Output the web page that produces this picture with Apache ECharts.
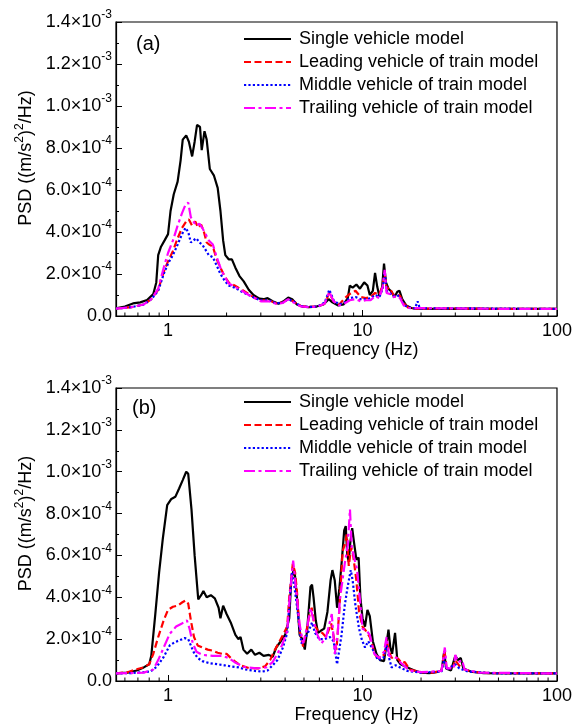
<!DOCTYPE html>
<html><head><meta charset="utf-8">
<script src="https://cdn.jsdelivr.net/npm/echarts@6/dist/echarts.min.js"></script>
<style>html,body{margin:0;padding:0;background:#fff}#c{width:575px;height:726px}</style>
</head><body><div id="c"></div><script>
// ---------- data ----------
const seriesNames = ['Single vehicle model','Leading vehicle of train model','Middle vehicle of train model','Trailing vehicle of train model'];
const xTickLabels = ['1','10','100'];
const minorFreqs = [0.6,0.7,0.8,0.9,2,3,4,5,6,7,8,9,20,30,40,50,60,70,80,90];
const yTicks = [0,2e-4,4e-4,6e-4,8e-4,1.0e-3,1.2e-3,1.4e-3];

// panel (a)  [frequency Hz, PSD]
const aSingle = [[0.54,3.6e-5],[0.60,4.5e-5],[0.66,6.0e-5],[0.72,6.5e-5],[0.78,7.6e-5],[0.84,1.05e-4],[0.87,1.6e-4],[0.89,2.9e-4],[0.92,3.3e-4],[0.96,3.6e-4],[1.00,3.9e-4],[1.03,5.0e-4],[1.07,5.8e-4],[1.12,6.4e-4],[1.16,7.4e-4],[1.19,8.4e-4],[1.24,8.6e-4],[1.28,8.3e-4],[1.33,7.6e-4],[1.37,8.3e-4],[1.41,9.1e-4],[1.46,9.0e-4],[1.49,7.9e-4],[1.54,8.8e-4],[1.58,8.4e-4],[1.64,7.0e-4],[1.72,6.7e-4],[1.80,6.1e-4],[1.86,5.0e-4],[1.92,3.6e-4],[1.97,2.9e-4],[2.05,2.7e-4],[2.13,2.7e-4],[2.22,2.3e-4],[2.33,1.9e-4],[2.45,1.65e-4],[2.6,1.25e-4],[2.75,1.0e-4],[2.95,8.3e-5],[3.1,8.0e-5],[3.25,8.5e-5],[3.45,7.0e-5],[3.7,5.8e-5],[3.95,7.2e-5],[4.15,8.8e-5],[4.35,8.0e-5],[4.6,5.5e-5],[4.9,4.5e-5],[5.3,4.2e-5],[5.8,4.5e-5],[6.3,5.5e-5],[6.7,8.0e-5],[7.0,6.5e-5],[7.5,5.0e-5],[8.0,5.5e-5],[8.4,8.5e-5],[8.6,1.45e-4],[8.9,1.35e-4],[9.3,1.5e-4],[9.7,1.3e-4],[10.2,1.6e-4],[10.6,1.45e-4],[10.9,1.0e-4],[11.3,1.2e-4],[11.6,2.05e-4],[11.9,1.4e-4],[12.2,9.5e-5],[12.6,1.3e-4],[12.9,2.5e-4],[13.2,1.6e-4],[13.6,1.3e-4],[14.1,1.15e-4],[14.6,9.0e-5],[15.1,1.15e-4],[15.5,1.2e-4],[16.0,8.0e-5],[16.8,5.0e-5],[17.8,3.8e-5],[19,3.5e-5],[25,3.4e-5],[35,3.5e-5],[50,3.4e-5],[70,3.4e-5],[100,3.4e-5]];
const aLeading = [[0.54,3.5e-5],[0.65,4.2e-5],[0.75,5.5e-5],[0.82,8.0e-5],[0.89,1.25e-4],[0.95,2.1e-4],[1.0,2.6e-4],[1.06,3.1e-4],[1.12,3.7e-4],[1.18,4.2e-4],[1.24,4.5e-4],[1.28,4.6e-4],[1.33,4.3e-4],[1.38,4.5e-4],[1.43,4.2e-4],[1.48,4.35e-4],[1.53,4.0e-4],[1.58,3.5e-4],[1.63,3.4e-4],[1.70,3.3e-4],[1.78,2.7e-4],[1.86,2.3e-4],[1.95,1.9e-4],[2.05,1.6e-4],[2.2,1.45e-4],[2.4,1.25e-4],[2.6,1.05e-4],[2.8,8.5e-5],[3.0,7.5e-5],[3.3,7.5e-5],[3.6,6.0e-5],[3.9,6.5e-5],[4.15,8.0e-5],[4.4,7.0e-5],[4.8,4.8e-5],[5.3,4.3e-5],[5.9,4.5e-5],[6.4,6.0e-5],[6.75,1.1e-4],[7.1,7.0e-5],[7.6,5.5e-5],[8.1,8.5e-5],[8.6,1.05e-4],[9.2,1.2e-4],[9.8,9.0e-5],[10.4,8.5e-5],[11.0,9.0e-5],[11.6,1.1e-4],[12.2,1.0e-4],[12.7,1.5e-4],[13.0,2.0e-4],[13.3,1.3e-4],[13.8,1.35e-4],[14.4,1.0e-4],[15.0,1.05e-4],[15.6,9.5e-5],[16.3,6.0e-5],[17.2,4.0e-5],[19,3.5e-5],[30,3.6e-5],[50,3.4e-5],[100,3.4e-5]];
const aMiddle = [[0.54,3.5e-5],[0.65,4.2e-5],[0.75,5.5e-5],[0.82,8.0e-5],[0.89,1.2e-4],[0.95,2.0e-4],[1.0,2.5e-4],[1.06,2.9e-4],[1.12,3.4e-4],[1.18,3.9e-4],[1.23,4.2e-4],[1.27,4.0e-4],[1.31,3.5e-4],[1.35,3.6e-4],[1.40,3.7e-4],[1.45,3.5e-4],[1.50,3.4e-4],[1.56,3.15e-4],[1.62,2.9e-4],[1.70,2.8e-4],[1.78,2.4e-4],[1.86,2.0e-4],[1.95,1.7e-4],[2.05,1.45e-4],[2.2,1.35e-4],[2.4,1.15e-4],[2.6,1.0e-4],[2.8,8.5e-5],[3.0,7.5e-5],[3.3,7.5e-5],[3.6,6.0e-5],[3.9,6.5e-5],[4.15,8.0e-5],[4.4,7.0e-5],[4.8,4.8e-5],[5.3,4.3e-5],[5.9,4.5e-5],[6.4,6.5e-5],[6.75,1.25e-4],[7.1,7.5e-5],[7.6,5.5e-5],[8.1,6.5e-5],[8.6,8.5e-5],[9.2,9.0e-5],[9.8,8.0e-5],[10.4,8.0e-5],[11.0,8.5e-5],[11.6,1.0e-4],[12.2,9.0e-5],[12.7,1.3e-4],[13.0,2.1e-4],[13.3,1.2e-4],[13.8,1.1e-4],[14.4,9.5e-5],[15.0,1.0e-4],[15.6,9.0e-5],[16.3,5.5e-5],[17.2,4.0e-5],[18.6,3.6e-5],[19.2,7.0e-5],[19.7,3.6e-5],[30,3.7e-5],[50,3.5e-5],[100,3.4e-5]];
const aTrailing = [[0.54,3.5e-5],[0.65,4.2e-5],[0.75,5.5e-5],[0.82,8.0e-5],[0.89,1.3e-4],[0.95,2.3e-4],[1.0,3.0e-4],[1.06,3.6e-4],[1.12,4.3e-4],[1.18,4.9e-4],[1.23,5.3e-4],[1.27,5.4e-4],[1.31,4.7e-4],[1.35,4.5e-4],[1.40,4.3e-4],[1.45,4.4e-4],[1.50,4.2e-4],[1.56,3.9e-4],[1.62,3.6e-4],[1.70,3.4e-4],[1.78,2.8e-4],[1.86,2.3e-4],[1.95,1.9e-4],[2.05,1.55e-4],[2.2,1.4e-4],[2.4,1.2e-4],[2.6,1.0e-4],[2.8,8.5e-5],[3.0,7.0e-5],[3.3,7.0e-5],[3.6,5.8e-5],[3.9,6.2e-5],[4.15,8.0e-5],[4.4,6.5e-5],[4.8,4.6e-5],[5.3,4.2e-5],[5.9,4.5e-5],[6.4,6.0e-5],[6.75,1.15e-4],[7.1,7.0e-5],[7.6,5.0e-5],[8.1,6.0e-5],[8.6,7.5e-5],[9.2,8.0e-5],[9.8,7.0e-5],[10.4,7.5e-5],[11.0,7.5e-5],[11.6,9.5e-5],[12.2,8.5e-5],[12.7,1.4e-4],[13.0,2.2e-4],[13.3,1.1e-4],[13.8,1.05e-4],[14.4,9.0e-5],[15.0,9.5e-5],[15.6,8.5e-5],[16.3,5.0e-5],[17.2,3.8e-5],[30,3.6e-5],[50,3.4e-5],[100,3.4e-5]];

// panel (b)
const bSingle = [[0.54,3.6e-5],[0.62,4.0e-5],[0.69,5.0e-5],[0.75,6.5e-5],[0.80,8.0e-5],[0.82,1.2e-4],[0.86,3.2e-4],[0.90,5.2e-4],[0.94,6.8e-4],[0.99,8.4e-4],[1.04,8.7e-4],[1.09,8.8e-4],[1.14,9.2e-4],[1.19,9.6e-4],[1.24,1.0e-3],[1.27,9.9e-4],[1.32,8.2e-4],[1.37,6.0e-4],[1.43,3.9e-4],[1.48,4.1e-4],[1.52,4.3e-4],[1.58,4.0e-4],[1.66,4.1e-4],[1.74,3.95e-4],[1.82,3.5e-4],[1.86,3.0e-4],[1.92,3.6e-4],[2.0,3.2e-4],[2.1,2.8e-4],[2.22,2.2e-4],[2.3,2.0e-4],[2.36,2.1e-4],[2.44,1.5e-4],[2.55,1.3e-4],[2.68,1.5e-4],[2.8,1.25e-4],[2.95,1.35e-4],[3.1,1.2e-4],[3.3,1.25e-4],[3.45,1.15e-4],[3.6,1.6e-4],[3.8,1.9e-4],[4.0,2.2e-4],[4.2,3.0e-4],[4.3,4.8e-4],[4.42,5.3e-4],[4.5,5.0e-4],[4.6,4.0e-4],[4.75,2.2e-4],[4.9,2.0e-4],[5.05,1.5e-4],[5.2,2.5e-4],[5.4,4.5e-4],[5.5,4.6e-4],[5.6,4.0e-4],[5.75,2.9e-4],[5.9,2.3e-4],[6.1,2.4e-4],[6.35,2.5e-4],[6.6,3.3e-4],[6.85,4.8e-4],[7.0,5.3e-4],[7.2,4.8e-4],[7.4,3.5e-4],[7.6,4.4e-4],[7.85,5.9e-4],[8.05,7.2e-4],[8.2,7.4e-4],[8.35,6.0e-4],[8.5,5.7e-4],[8.65,6.6e-4],[8.85,7.3e-4],[9.05,6.6e-4],[9.3,5.8e-4],[9.55,5.9e-4],[9.75,4.0e-4],[10.0,3.0e-4],[10.3,2.6e-4],[10.6,3.4e-4],[10.9,3.1e-4],[11.3,1.9e-4],[11.8,1.3e-4],[12.3,1.0e-4],[12.9,9.5e-5],[13.3,1.8e-4],[13.6,2.45e-4],[13.9,1.6e-4],[14.2,1.3e-4],[14.7,2.3e-4],[15.1,1.0e-4],[15.7,8.0e-5],[16.5,7.0e-5],[17.5,6.0e-5],[18.5,5.0e-5],[20,4.0e-5],[22,3.8e-5],[24,4.2e-5],[25.5,5.0e-5],[26.3,1.4e-4],[26.9,6.0e-5],[28.5,5.0e-5],[30,1.2e-4],[31,1.0e-4],[32,1.1e-4],[33,6.0e-5],[36,4.5e-5],[42,3.8e-5],[60,3.6e-5],[100,3.6e-5]];
const bLeading = [[0.54,3.6e-5],[0.62,4.2e-5],[0.68,5.5e-5],[0.75,6.5e-5],[0.80,8.0e-5],[0.84,1.3e-4],[0.89,2.1e-4],[0.95,2.9e-4],[1.0,3.4e-4],[1.06,3.55e-4],[1.12,3.6e-4],[1.18,3.75e-4],[1.23,3.85e-4],[1.27,3.7e-4],[1.31,2.9e-4],[1.36,2.1e-4],[1.42,1.7e-4],[1.5,1.6e-4],[1.6,1.5e-4],[1.7,1.45e-4],[1.8,1.35e-4],[1.9,1.3e-4],[2.0,1.3e-4],[2.1,1.1e-4],[2.2,9.5e-5],[2.35,7.5e-5],[2.6,6.2e-5],[2.9,6.0e-5],[3.15,7.0e-5],[3.35,1.0e-4],[3.5,1.4e-4],[3.7,1.8e-4],[3.9,2.2e-4],[4.1,2.6e-4],[4.2,4.0e-4],[4.38,5.6e-4],[4.5,5.2e-4],[4.6,4.3e-4],[4.75,2.4e-4],[4.95,1.65e-4],[5.15,2.4e-4],[5.35,3.2e-4],[5.48,3.5e-4],[5.65,2.7e-4],[5.9,2.4e-4],[6.2,2.3e-4],[6.5,2.1e-4],[6.9,2.75e-4],[7.15,2.0e-4],[7.35,1.5e-4],[7.6,3.4e-4],[7.9,6.2e-4],[8.15,6.6e-4],[8.3,7.0e-4],[8.5,5.5e-4],[8.75,6.4e-4],[8.95,6.0e-4],[9.3,4.8e-4],[9.6,3.3e-4],[10.0,2.6e-4],[10.4,2.4e-4],[10.9,2.1e-4],[11.4,1.5e-4],[11.8,1.15e-4],[12.4,1.1e-4],[13.0,1.3e-4],[13.3,2.0e-4],[13.6,1.5e-4],[14.1,1.1e-4],[14.6,1.2e-4],[15.3,1.05e-4],[15.9,8.5e-5],[16.5,9.0e-5],[17.5,5.5e-5],[20,4.2e-5],[23,4.0e-5],[25.5,5.0e-5],[26.4,1.45e-4],[27,6.5e-5],[29.3,7.0e-5],[30,1.0e-4],[31,8.0e-5],[32.5,6.0e-5],[36,4.5e-5],[45,3.8e-5],[100,3.6e-5]];
const bMiddle = [[0.54,3.6e-5],[0.65,3.8e-5],[0.75,4.2e-5],[0.81,4.5e-5],[0.875,6.8e-5],[0.95,1.15e-4],[1.02,1.7e-4],[1.08,1.85e-4],[1.15,1.95e-4],[1.22,2.05e-4],[1.27,2.0e-4],[1.31,1.7e-4],[1.35,1.4e-4],[1.42,1.1e-4],[1.5,9.5e-5],[1.64,8.5e-5],[1.8,8.0e-5],[1.95,7.5e-5],[2.1,7.0e-5],[2.3,6.5e-5],[2.5,5.5e-5],[2.8,4.8e-5],[3.05,4.5e-5],[3.25,5.0e-5],[3.45,7.5e-5],[3.65,1.0e-4],[3.9,1.6e-4],[4.1,2.3e-4],[4.22,3.8e-4],[4.33,5.2e-4],[4.45,4.6e-4],[4.6,3.6e-4],[4.85,1.8e-4],[5.05,2.0e-4],[5.3,2.4e-4],[5.5,2.8e-4],[5.7,2.3e-4],[6.0,2.0e-4],[6.4,2.0e-4],[6.8,2.1e-4],[7.1,1.9e-4],[7.4,8.0e-5],[7.8,2.2e-4],[8.1,3.6e-4],[8.35,4.4e-4],[8.7,5.3e-4],[8.9,4.8e-4],[9.2,3.6e-4],[9.6,2.5e-4],[9.9,2.0e-4],[10.3,1.6e-4],[10.7,1.9e-4],[11.3,1.5e-4],[12.0,1.0e-4],[12.8,1.1e-4],[13.3,1.7e-4],[13.7,1.1e-4],[14.1,6.5e-5],[14.8,7.5e-5],[15.6,6.5e-5],[17,4.8e-5],[20,4.0e-5],[25.5,4.5e-5],[26.4,1.1e-4],[27,5.5e-5],[30,8.0e-5],[31.5,6.0e-5],[35,4.5e-5],[50,3.6e-5],[100,3.6e-5]];
const bTrailing = [[0.54,3.6e-5],[0.65,3.8e-5],[0.75,4.0e-5],[0.84,5.5e-5],[0.89,1.0e-4],[0.95,1.6e-4],[1.02,2.25e-4],[1.1,2.6e-4],[1.18,2.75e-4],[1.25,2.9e-4],[1.29,2.5e-4],[1.34,1.8e-4],[1.4,1.4e-4],[1.5,1.25e-4],[1.7,1.2e-4],[1.9,1.2e-4],[2.05,1.1e-4],[2.2,9.0e-5],[2.45,6.8e-5],[2.85,6.0e-5],[3.2,6.5e-5],[3.45,9.0e-5],[3.65,1.3e-4],[3.85,1.7e-4],[4.1,2.4e-4],[4.25,4.3e-4],[4.4,5.75e-4],[4.55,4.4e-4],[4.75,2.7e-4],[4.95,1.8e-4],[5.2,2.6e-4],[5.4,3.5e-4],[5.6,2.9e-4],[5.8,2.3e-4],[6.15,1.8e-4],[6.5,2.1e-4],[6.95,3.2e-4],[7.2,1.3e-4],[7.45,2.2e-4],[7.65,3.9e-4],[8.1,5.6e-4],[8.4,6.5e-4],[8.62,8.2e-4],[8.8,6.4e-4],[9.1,5.8e-4],[9.35,5.4e-4],[9.7,3.9e-4],[10.0,2.5e-4],[10.5,2.4e-4],[10.9,2.2e-4],[11.5,1.3e-4],[12.2,1.1e-4],[12.9,1.4e-4],[13.3,2.1e-4],[13.7,1.2e-4],[14.3,1.15e-4],[15.0,1.1e-4],[15.6,9.0e-5],[16.5,7.0e-5],[17.5,5.0e-5],[20,4.2e-5],[25.5,4.8e-5],[26.5,1.6e-4],[27.1,6.0e-5],[29.5,6.0e-5],[30,1.25e-4],[31,9.0e-5],[32.5,1.0e-4],[33.5,5.5e-5],[40,4.0e-5],[100,3.6e-5]];

// ---------- chart ----------
const FONT = 'Liberation Sans, Arial, sans-serif';
const chart = echarts.init(document.getElementById('c'), null, {renderer:'canvas'});

const styles = [
  {color:'#000000', width:2.2, type:'solid'},
  {color:'#ff0000', width:2.2, type:[7,3.5]},
  {color:'#0000ff', width:2.2, type:[2.2,2.2]},
  {color:'#ff00ff', width:2.2, type:[11,3.5,3,3.5]}
];

function fmtY(v){
  if (Math.abs(v) < 1e-12) return '{m|0.0}';
  const e = Math.floor(Math.log10(v) + 1e-9);
  const m = (v / Math.pow(10, e)).toFixed(1);
  return '{m|' + m + '×10}{e|' + e + '}';
}
const richY = {
  m:{fontSize:18, lineHeight:26, fontFamily:FONT, color:'#000'},
  e:{fontSize:12, lineHeight:12, verticalAlign:'top', fontFamily:FONT, color:'#000'}
};

function makeX(idx){
  return {
    type:'log', logBase:10, gridIndex:idx, min:0.54, max:100,
    axisLine:{lineStyle:{color:'#000', width:1.2}},
    axisTick:{inside:true, length:6, lineStyle:{color:'#000'}},
    splitLine:{show:false},
    axisLabel:{
      fontSize:18, fontFamily:FONT, color:'#000', margin:6,
      formatter: function(v){
        const l = Math.log10(v);
        if (Math.abs(l - Math.round(l)) < 1e-6 && Math.round(l) >= 0) {
          return xTickLabels[Math.round(l)] || '';
        }
        return '';
      }
    },
    name:'Frequency (Hz)', nameLocation:'middle', nameGap:23,
    nameTextStyle:{fontSize:18, fontFamily:FONT, color:'#000', lineHeight:18, padding:[0,0,0,40]}
  };
}
function makeY(idx){
  return {
    type:'value', gridIndex:idx, min:0, max:1.4e-3, interval:2e-4,
    axisLine:{show:true, lineStyle:{color:'#000', width:1.2}},
    axisTick:{show:true, inside:true, length:6, lineStyle:{color:'#000'}},
    minorTick:{show:true, splitNumber:2, length:3, lineStyle:{color:'#000'}},
    splitLine:{show:false},
    axisLabel:{formatter:fmtY, rich:richY, margin:4},
    name:'{n|PSD ((m/s}{s|2}{n|)}{s|2}{n|/Hz)}', nameLocation:'middle', nameGap:74,
    nameTextStyle:{
      padding:[0,0,0,22],
      rich:{
        n:{fontSize:18, lineHeight:24, fontFamily:FONT, color:'#000'},
        s:{fontSize:12, lineHeight:12, verticalAlign:'top', fontFamily:FONT, color:'#000'}
      }
    }
  };
}

const panels = [[aSingle,aLeading,aMiddle,aTrailing],[bSingle,bLeading,bMiddle,bTrailing]];
const series = [];
panels.forEach(function(p, gi){
  p.forEach(function(d, si){
    series.push({
      type:'line', name:seriesNames[si], xAxisIndex:gi, yAxisIndex:gi,
      data:d, showSymbol:false, symbol:'none', smooth:false, sampling:'none',
      lineStyle:{color:styles[si].color, width:styles[si].width, type:styles[si].type},
      itemStyle:{color:styles[si].color},
      emphasis:{disabled:true}, animation:false, z:2+si
    });
  });
  series.push({
    type:'custom', name:'minor' + gi, xAxisIndex:gi, yAxisIndex:gi, silent:true, animation:false,
    data:minorFreqs.map(function(f){ return [f, 0]; }),
    renderItem:function(params, api){
      const pt = api.coord([api.value(0), 0]);
      return {type:'line', shape:{x1:pt[0], y1:pt[1], x2:pt[0], y2:pt[1]-3.5}, style:{stroke:'#000', lineWidth:1}};
    }
  });
});

function makeLegend(top){
  return {
    data:seriesNames, orient:'vertical', left:243, top:top, padding:0,
    itemWidth:47, itemHeight:12, itemGap:5, selectedMode:false,
    itemStyle:{opacity:0},
    textStyle:{fontSize:18, fontFamily:FONT, color:'#000', lineHeight:18, padding:[0,0,0,3]}
  };
}

chart.setOption({
  animation:false,
  backgroundColor:'#ffffff',
  textStyle:{fontFamily:FONT},
  grid:[
    {left:116, top:22, width:441, height:294, show:true, borderColor:'#000', borderWidth:1.2, containLabel:false},
    {left:116, top:388, width:441, height:293, show:true, borderColor:'#000', borderWidth:1.2, containLabel:false}
  ],
  xAxis:[makeX(0), makeX(1)],
  yAxis:[makeY(0), makeY(1)],
  legend:[makeLegend(30), makeLegend(393)],
  graphic:[
    {type:'text', left:136, top:34, style:{text:'(a)', font:'20px ' + FONT, fill:'#000'}},
    {type:'text', left:132, top:398, style:{text:'(b)', font:'20px ' + FONT, fill:'#000'}}
  ],
  series:series
});
</script></body></html>
